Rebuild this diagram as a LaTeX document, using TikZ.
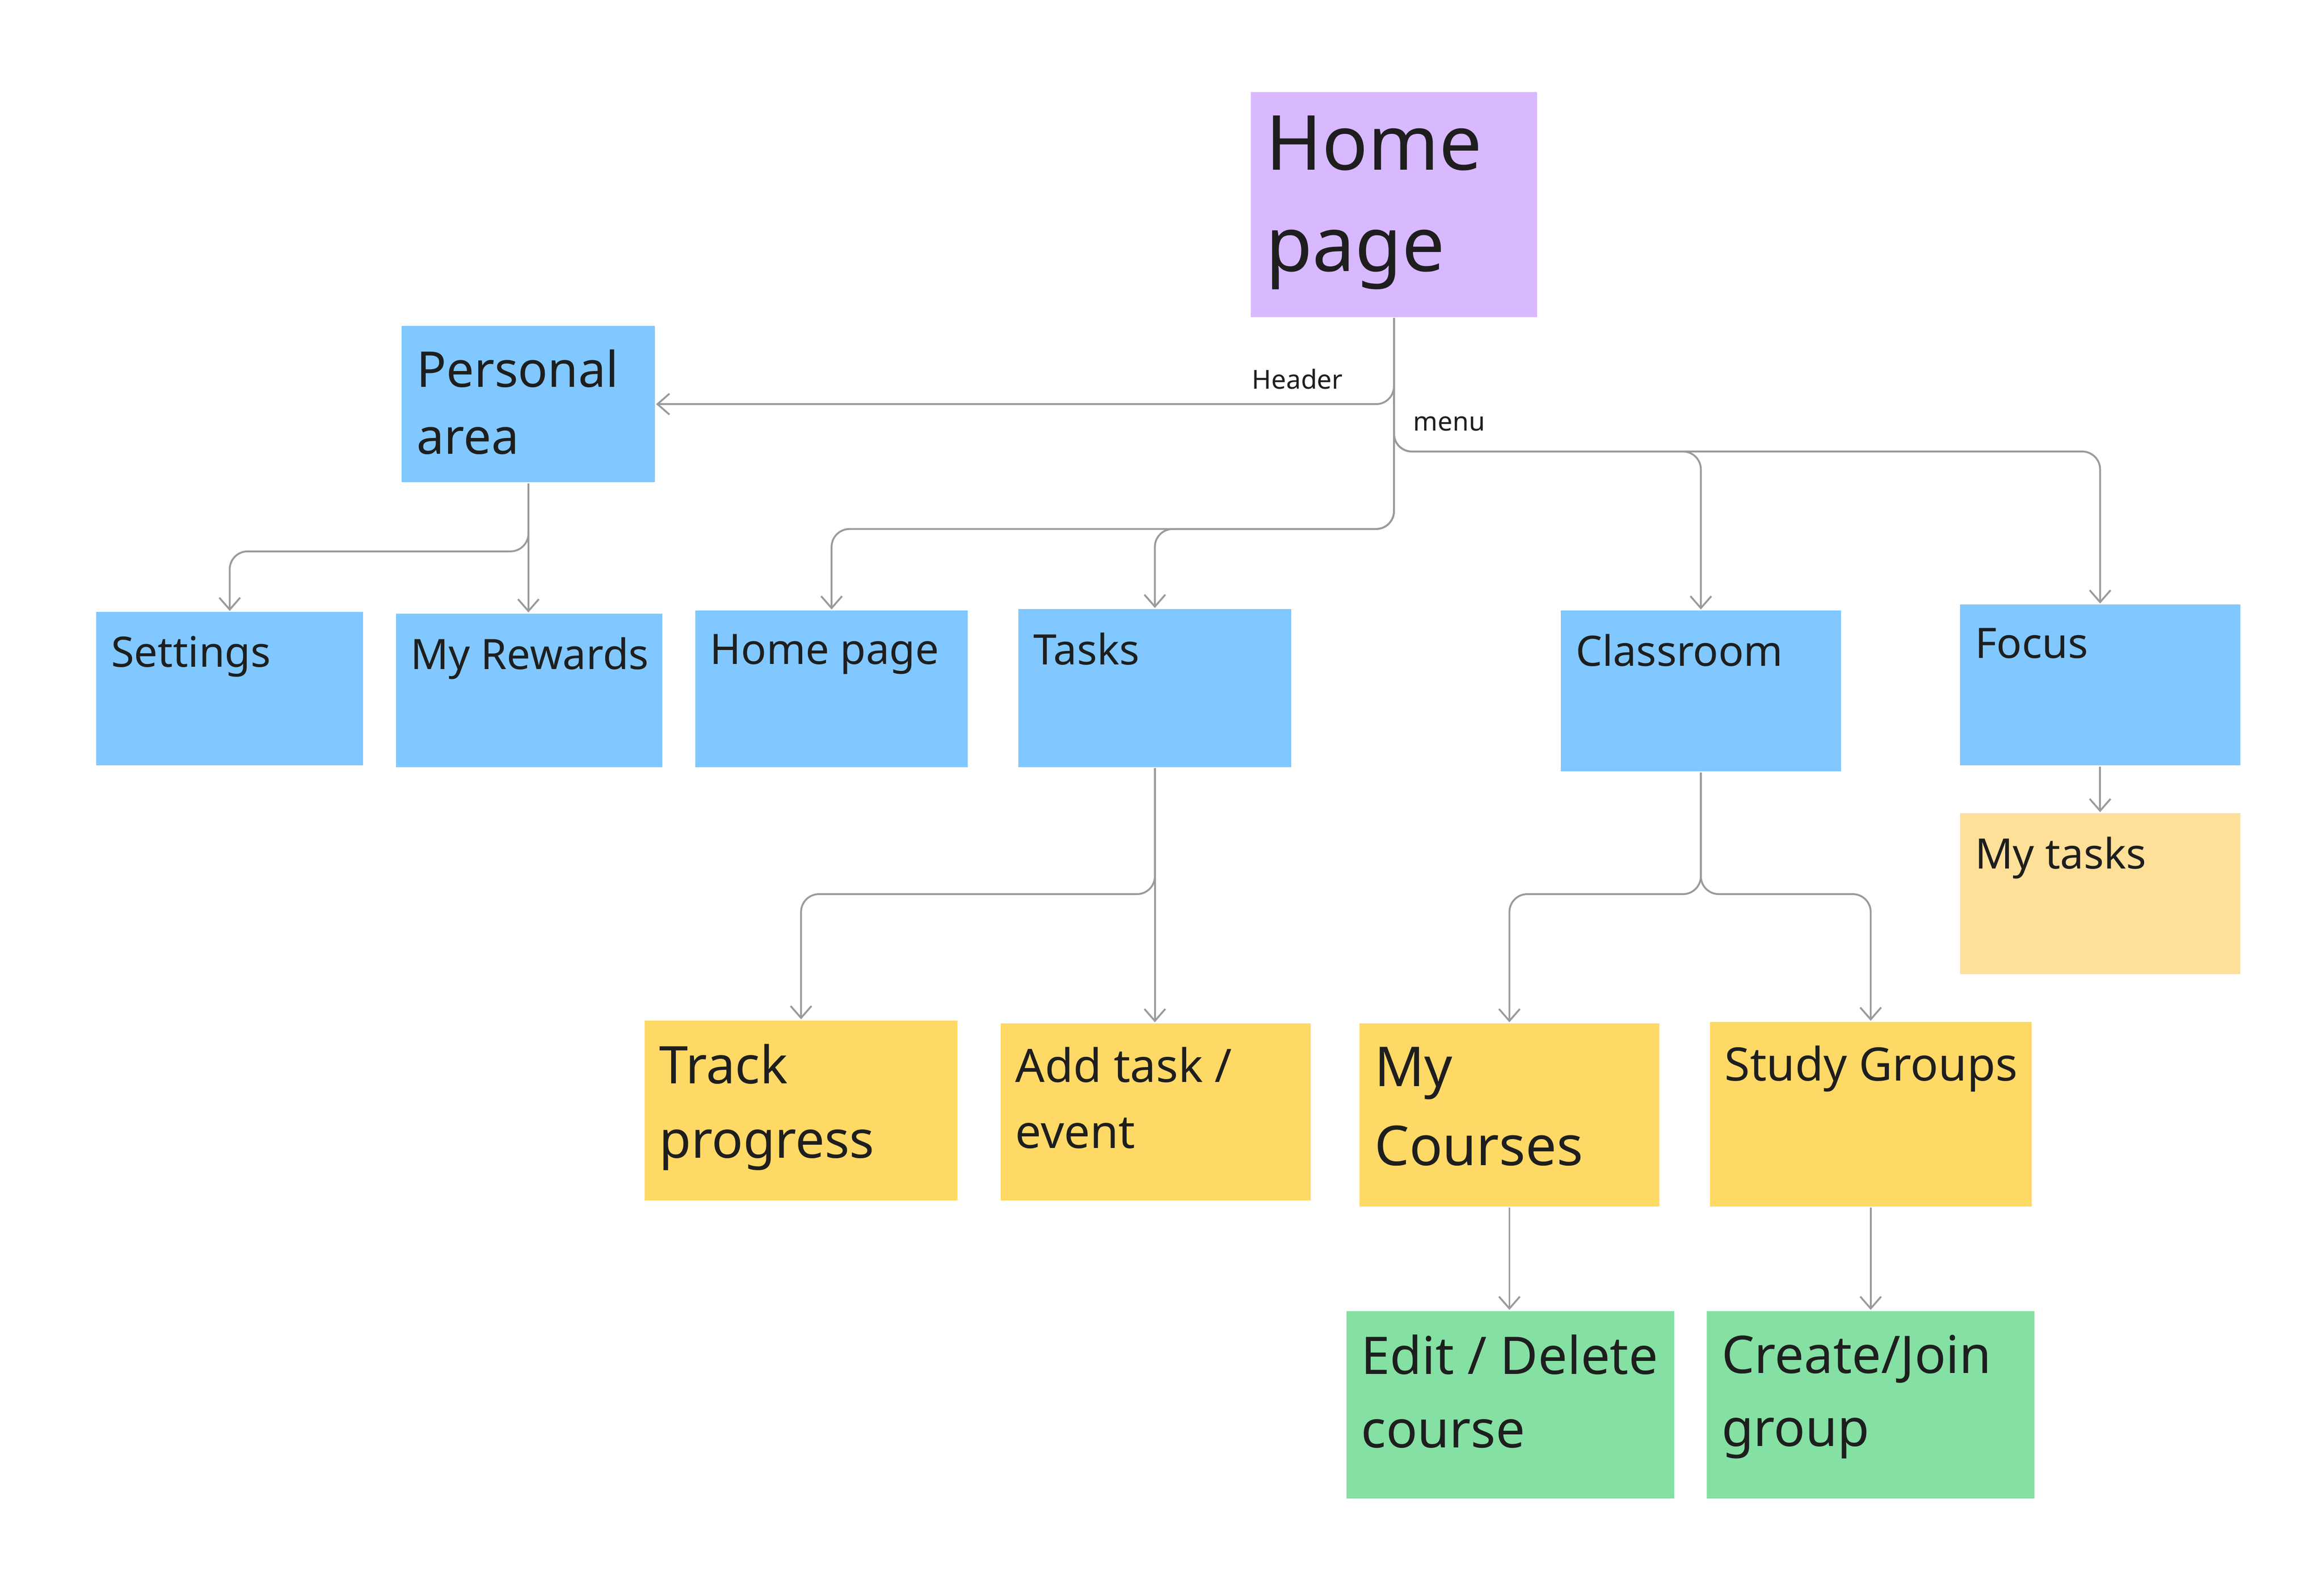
\documentclass[tikz,border=0pt]{standalone}
\usepackage{fontspec}
\setmainfont{Noto Sans}
\usetikzlibrary{arrows.meta, positioning, calc}

\definecolor{cpurple}{HTML}{D8B9FF}
\definecolor{cblue}{HTML}{80C8FF}
\definecolor{cyellow}{HTML}{FFD966}
\definecolor{cpale}{HTML}{FFE099}
\definecolor{cgreen}{HTML}{85E0A3}
\definecolor{cline}{HTML}{9A9A9A}
\definecolor{ctext}{HTML}{1E1E1E}

\tikzset{
  card/.style={anchor=north west, inner sep=0pt, draw=none},
  cardtext/.style={anchor=north west, align=left, inner sep=0pt, text=ctext},
  link/.style={draw=cline, line width=0.35pt, rounded corners=1.2mm,
    -{Straight Barb[length=0.8mm, width=1.4mm]}},
  lbl/.style={font=\fontsize{5}{6}\selectfont, text=ctext, inner sep=0pt}
}

% box: name, x, y, width, height, colour, font size, line skip, text
\newcommand{\card}[9]{
  \node[card, fill=#6, minimum width={#4*0.01cm}, minimum height={#5*0.01cm}] (#1) at (#2,#3) {};
  \node[cardtext, font=\fontsize{#7}{#8}\selectfont] (#1-t)
    at ($(#1.north west)+(10,16)$) {#9};
}

\begin{document}
\begin{tikzpicture}[x=0.01cm, y=-0.01cm]
    \useasboundingbox (0,0) rectangle (1560,1068);

    \card{home}{839}{61}{192}{151}{cpurple}{14.5}{19.3}{Home\\page}
    \card{personal}{269}{218}{170}{105}{cblue}{9.4}{12.8}{Personal\\area}
    \card{settings}{64}{410}{179}{103}{cblue}{8}{10}{Settings}
    \card{rewards}{265}{411}{179}{103}{cblue}{8}{10}{My Rewards}
    \card{homepg}{466}{409}{183}{105}{cblue}{8}{10}{Home page}
    \card{tasks}{683}{408}{183}{106}{cblue}{8}{10}{Tasks}
    \card{classroom}{1047}{409}{188}{108}{cblue}{8}{10}{Classroom}
    \card{focus}{1315}{405}{188}{108}{cblue}{8}{10}{Focus}
    \card{mytasks}{1315}{545}{188}{108}{cpale}{8}{10}{My tasks}
    \card{track}{432}{684}{210}{121}{cyellow}{9.9}{14.2}{Track\\progress}
    \card{addtask}{671}{686}{208}{119}{cyellow}{8.8}{12.6}{Add task /\\event}
    \card{courses}{912}{686}{201}{123}{cyellow}{10.5}{15.1}{My\\Courses}
    \card{groups}{1147}{685}{216}{124}{cyellow}{8.8}{12.6}{Study Groups}
    \card{editc}{903}{879}{220}{126}{cgreen}{9.9}{14}{Edit / Delete\\course}
    \card{createg}{1145}{879}{220}{126}{cgreen}{9.9}{14}{Create/Join\\group}

    % header and menu links from the home page
    \draw[link] (home.south) |- (personal.east);
    \node[lbl, anchor=south east] (header) at (902,262) {Header};
    \node[lbl, anchor=south west] (menu) at (948,290) {menu};
    \draw[link] (home.south) |- (homepg.north |- 0,355) -- (homepg.north);
    \draw[link] (home.south) |- (tasks.north |- 0,355) -- (tasks.north);
    \draw[link] (home.south) |- (classroom.north |- 0,303) -- (classroom.north);
    \draw[link] (home.south) |- (focus.north |- 0,303) -- (focus.north);

    % personal area
    \draw[link] (personal.south) -- (rewards.north -| personal.south);
    \draw[link] (personal.south) |- (settings.north |- 0,370) -- (settings.north);

    % tasks
    \draw[link] (tasks.south) -- (addtask.north -| tasks.south);
    \draw[link] (tasks.south) |- (track.north |- 0,600) -- (track.north);

    % classroom
    \draw[link] (classroom.south) |- (courses.north |- 0,600) -- (courses.north);
    \draw[link] (classroom.south) |- (groups.north |- 0,600) -- (groups.north);
    \draw[link] (focus.south) -- (mytasks.north);
    \draw[link] (courses.south) -- (editc.north -| courses.south);
    \draw[link] (groups.south) -- (createg.north -| groups.south);
\end{tikzpicture}
\end{document}
